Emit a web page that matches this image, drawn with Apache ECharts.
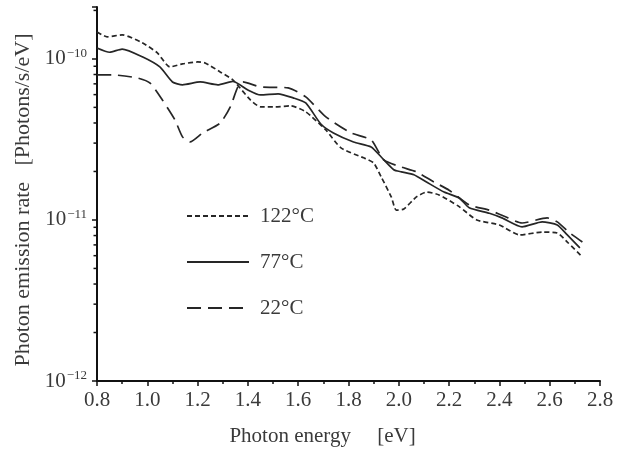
<!DOCTYPE html>
<html>
<head>
<meta charset="utf-8">
<script src="https://cdn.jsdelivr.net/npm/echarts@6/dist/echarts.min.js"></script>
<style>html,body{margin:0;padding:0;background:#fff;}#c{width:624px;height:452px;}</style>
</head>
<body>
<div id="c"></div>
<script>
// Data
const seriesNames = ['122°C', '77°C', '22°C'];

const energy122 = [0.80,0.84,0.90,0.98,1.04,1.09,1.14,1.20,1.23,1.29,1.34,1.41,1.45,1.51,1.57,1.63,1.71,1.77,1.86,1.90,1.93,1.97,1.99,2.02,2.07,2.11,2.16,2.24,2.31,2.40,2.48,2.57,2.63,2.67,2.73];
const rate122 = [1.47e-10,1.37e-10,1.41e-10,1.26e-10,1.09e-10,8.91e-11,9.31e-11,9.57e-11,9.44e-11,8.30e-11,7.41e-11,5.56e-11,5.04e-11,5.04e-11,5.11e-11,4.69e-11,3.62e-11,2.80e-11,2.43e-11,2.26e-11,1.85e-11,1.39e-11,1.15e-11,1.17e-11,1.39e-11,1.49e-11,1.43e-11,1.21e-11,1.00e-11,9.31e-12,8.07e-12,8.41e-12,8.30e-12,7.29e-12,5.89e-12];

const energy77 = [0.80,0.85,0.90,0.98,1.05,1.10,1.14,1.21,1.28,1.34,1.40,1.45,1.52,1.58,1.63,1.69,1.74,1.82,1.89,1.93,1.98,2.01,2.06,2.11,2.18,2.24,2.28,2.36,2.41,2.49,2.57,2.63,2.67,2.72];
const rate77 = [1.17e-10,1.10e-10,1.15e-10,1.03e-10,8.91e-11,7.19e-11,6.90e-11,7.19e-11,6.90e-11,7.25e-11,6.41e-11,5.97e-11,6.07e-11,5.73e-11,5.33e-11,3.94e-11,3.47e-11,3.05e-11,2.84e-11,2.46e-11,2.05e-11,1.99e-11,1.91e-11,1.72e-11,1.49e-11,1.37e-11,1.19e-11,1.10e-11,1.03e-11,9.06e-12,9.73e-12,9.31e-12,8.07e-12,6.70e-12];

const energy22 = [0.80,0.86,0.96,1.01,1.06,1.11,1.14,1.17,1.22,1.29,1.33,1.36,1.38,1.45,1.56,1.63,1.71,1.81,1.89,1.94,2.01,2.07,2.14,2.20,2.28,2.36,2.41,2.49,2.59,2.63,2.68,2.73];
const rate22 = [7.96e-11,7.96e-11,7.62e-11,7.10e-11,5.56e-11,4.18e-11,3.28e-11,3.05e-11,3.47e-11,4.00e-11,5.04e-11,6.70e-11,7.19e-11,6.70e-11,6.61e-11,5.81e-11,4.37e-11,3.47e-11,3.14e-11,2.36e-11,2.13e-11,1.99e-11,1.72e-11,1.53e-11,1.24e-11,1.15e-11,1.07e-11,9.57e-12,1.03e-11,9.73e-12,8.30e-12,7.29e-12];

const xMin = 0.8, xMax = 2.8, xStep = 0.2;
const yMin = 1e-12, yMax = 2.1e-10;
const yMinorTicks = [2e-12,3e-12,4e-12,5e-12,6e-12,7e-12,8e-12,9e-12,2e-11,3e-11,4e-11,5e-11,6e-11,7e-11,8e-11,9e-11,2e-10];

const xTitle = 'Photon energy     [eV]';
const yTitle = 'Photon emission rate   [Photons/s/eV]';

function zip(a, b) { return a.map((v, i) => [v, b[i]]); }

const font = 'Liberation Serif';
const textColor = '#3a3a3a';
const lineColor = '#262626';

const chart = echarts.init(document.getElementById('c'), null, {renderer: 'canvas'});
chart.setOption({
  animation: false,
  backgroundColor: '#fff',
  grid: {left: 97, right: 24, top: 7, bottom: 71, containLabel: false},
  legend: {
    orient: 'vertical', left: 181, top: 200,
    itemWidth: 62, itemHeight: 14, itemGap: 24,
    data: seriesNames,
    itemStyle: {opacity: 0},
    textStyle: {fontFamily: font, fontSize: 21, color: textColor, lineHeight: 22, padding: [0, 0, 0, 6]}
  },
  xAxis: {
    type: 'value', min: xMin, max: xMax, interval: xStep,
    name: xTitle, nameLocation: 'middle', nameGap: 45,
    nameTextStyle: {fontFamily: font, fontSize: 21, color: textColor, padding: [0, 52, 0, 0]},
    axisLine: {show: true, onZero: false, lineStyle: {color: '#111', width: 2}},
    axisTick: {show: true, length: 5, lineStyle: {color: '#111', width: 1.5}},
    minorTick: {show: true, splitNumber: 2, length: 3, lineStyle: {color: '#111', width: 1.5}},
    splitLine: {show: false},
    axisLabel: {margin: 9, fontFamily: font, fontSize: 21, color: textColor, formatter: v => v.toFixed(1)}
  },
  yAxis: {
    type: 'log', logBase: 10, min: yMin, max: yMax,
    name: yTitle, nameLocation: 'middle', nameGap: 62, nameRotate: 90,
    nameTextStyle: {fontFamily: font, fontSize: 22, color: textColor, padding: [0, 12, 0, 0]},
    axisLine: {show: true, onZero: false, lineStyle: {color: '#111', width: 2}},
    axisTick: {show: true, length: 5, lineStyle: {color: '#111', width: 1.5}},
    splitLine: {show: false},
    axisLabel: {
      margin: 10,
      formatter: function (v) {
        const l = Math.log10(v);
        const e = Math.round(l);
        if (Math.abs(l - e) > 0.01) return '';
        return '{b|10}{s|' + (e < 0 ? '\u2212' : '') + Math.abs(e) + '}';
      },
      rich: {
        b: {fontFamily: font, fontSize: 21, color: textColor, lineHeight: 24},
        s: {fontFamily: font, fontSize: 13, color: textColor, verticalAlign: 'top', lineHeight: 13, padding: [0, 0, 0, 1]}
      }
    }
  },
  series: [
    {name: seriesNames[0], type: 'line', data: zip(energy122, rate122), symbol: 'none', smooth: 0.2,
     lineStyle: {color: lineColor, width: 1.7, type: [5, 3]}, itemStyle: {color: lineColor}},
    {name: seriesNames[1], type: 'line', data: zip(energy77, rate77), symbol: 'none', smooth: 0.2,
     lineStyle: {color: lineColor, width: 1.7, type: 'solid'}, itemStyle: {color: lineColor}},
    {name: seriesNames[2], type: 'line', data: zip(energy22, rate22), symbol: 'none', smooth: 0.2,
     lineStyle: {color: lineColor, width: 1.7, type: [14, 7]}, itemStyle: {color: lineColor}},
    {type: 'custom', silent: true, clip: false,
     data: yMinorTicks.map(v => [xMin, v]),
     renderItem: function (params, api) {
       const p = api.coord([api.value(0), api.value(1)]);
       return {type: 'line', shape: {x1: p[0] - 3.5, y1: p[1], x2: p[0], y2: p[1]},
               style: {stroke: '#111', lineWidth: 1.5}};
     }}
  ]
});
</script>
</body>
</html>
